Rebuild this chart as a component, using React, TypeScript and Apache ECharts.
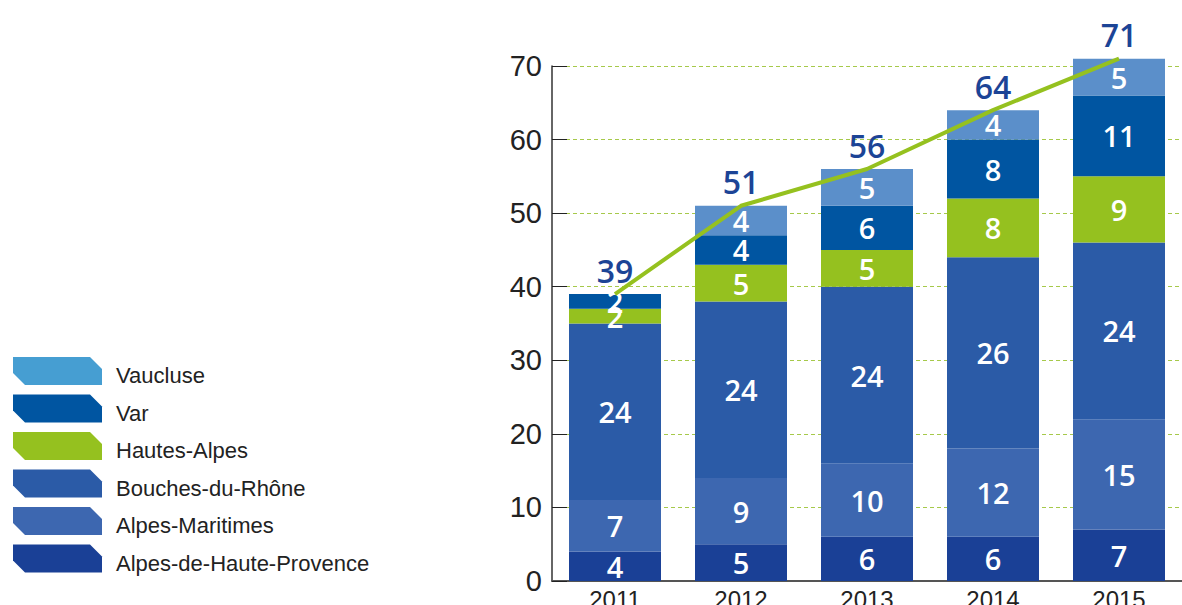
import React, { useEffect, useRef } from "react";
import * as echarts from "echarts";

const years = ["2011", "2012", "2013", "2014", "2015"];
const alpesHauteProvence = [4, 5, 6, 6, 7];
const alpesMaritimes = [7, 9, 10, 12, 15];
const bouchesDuRhone = [24, 24, 24, 26, 24];
const hautesAlpes = [2, 5, 5, 8, 9];
const varDept = [2, 4, 6, 8, 11];
const vaucluse = [0, 4, 5, 4, 5];
const totals = [39, 51, 56, 64, 71];
const legendOrder = [
  "Vaucluse",
  "Var",
  "Hautes-Alpes",
  "Bouches-du-Rhône",
  "Alpes-Maritimes",
  "Alpes-de-Haute-Provence",
];

const COLORS: Record<string, string> = {
  "Alpes-de-Haute-Provence": "#1a4096",
  "Alpes-Maritimes": "#3d67b0",
  "Bouches-du-Rhône": "#2b5ba7",
  "Hautes-Alpes": "#95c11f",
  Var: "#0055a1",
  Vaucluse: "#5b8fca",
};
const LEGEND_COLORS: Record<string, string> = {
  ...COLORS,
  Vaucluse: "#469ed2",
};

const ICON = "path://M0,0 L77,0 L89,12 L89,28 L12,28 L0,16 Z";

export default function App() {
  const ref = useRef<HTMLDivElement>(null);
  useEffect(() => {
    document.body.style.margin = "0";
    if (!ref.current) return;
    const chart = echarts.init(ref.current, null, { renderer: "svg" });
    const stacks: [string, number[]][] = [
      ["Alpes-de-Haute-Provence", alpesHauteProvence],
      ["Alpes-Maritimes", alpesMaritimes],
      ["Bouches-du-Rhône", bouchesDuRhone],
      ["Hautes-Alpes", hautesAlpes],
      ["Var", varDept],
      ["Vaucluse", vaucluse],
    ];
    const barSeries = stacks.map(([name, data]) => ({
      name,
      type: "bar",
      stack: "total",
      barWidth: 92,
      clip: false,
      data,
      itemStyle: { color: COLORS[name] },
      label: {
        show: true,
        position: "inside",
        color: "#ffffff",
        fontFamily: "Open Sans",
        fontWeight: 600,
        fontSize: 29,
        formatter: (p: any) => (p.value ? String(p.value) : ""),
      },
      z: 2,
    }));
    chart.setOption({
      animation: false,
      grid: {
        left: 552,
        right: 0,
        top: 66,
        bottom: 24,
        containLabel: false,
        outerBoundsMode: "none",
      },
      legend: {
        orient: "vertical",
        left: 13,
        top: 357,
        padding: 0,
        itemWidth: 89,
        itemHeight: 28,
        itemGap: 8,
        selectedMode: false,
        formatter: (name: string) => `{s|}\n{t|${name}}`,
        textStyle: {
          fontFamily: "Liberation Sans",
          fontSize: 22,
          color: "#222222",
          rich: {
            s: { lineHeight: 9, fontSize: 9, padding: [0, 0, 0, 9] },
            t: {
              fontFamily: "Liberation Sans",
              fontSize: 22,
              color: "#222222",
              lineHeight: 19,
              padding: [0, 0, 0, 9],
            },
          },
        },
        data: legendOrder.map((name) => ({
          name,
          icon: ICON,
          itemStyle: { color: LEGEND_COLORS[name] },
        })),
      },
      xAxis: {
        type: "category",
        data: years,
        axisLine: { lineStyle: { color: "#555555", width: 2 } },
        axisTick: { inside: true, length: 8, lineStyle: { color: "#555555" } },
        axisLabel: {
          fontFamily: "Liberation Sans",
          fontSize: 24,
          color: "#222222",
          margin: 6,
        },
      },
      yAxis: {
        type: "value",
        min: 0,
        max: 70,
        interval: 10,
        axisLine: { show: true, lineStyle: { color: "#333333", width: 1.5 } },
        axisTick: { show: true, inside: true, length: 15, lineStyle: { color: "#222222" } },
        axisLabel: {
          fontFamily: "Liberation Sans",
          fontSize: 29,
          color: "#222222",
          margin: 10,
        },
        splitLine: {
          show: true,
          lineStyle: { color: "#a6c94a", type: [4, 3], width: 1 },
        },
      },
      series: [
        ...barSeries,
        {
          name: "Total",
          type: "line",
          data: totals,
          clip: false,
          symbol: "circle",
          symbolSize: 0,
          lineStyle: { color: "#95c11f", width: 4 },
          itemStyle: { color: "#95c11f" },
          label: {
            show: true,
            position: "top",
            distance: 8,
            color: "#1c4496",
            fontFamily: "Open Sans",
            fontWeight: 600,
            fontSize: 32,
          },
          z: 5,
        },
      ],
    });
    return () => chart.dispose();
  }, []);
  return <div ref={ref} style={{ width: 1182, height: 605 }} />;
}
